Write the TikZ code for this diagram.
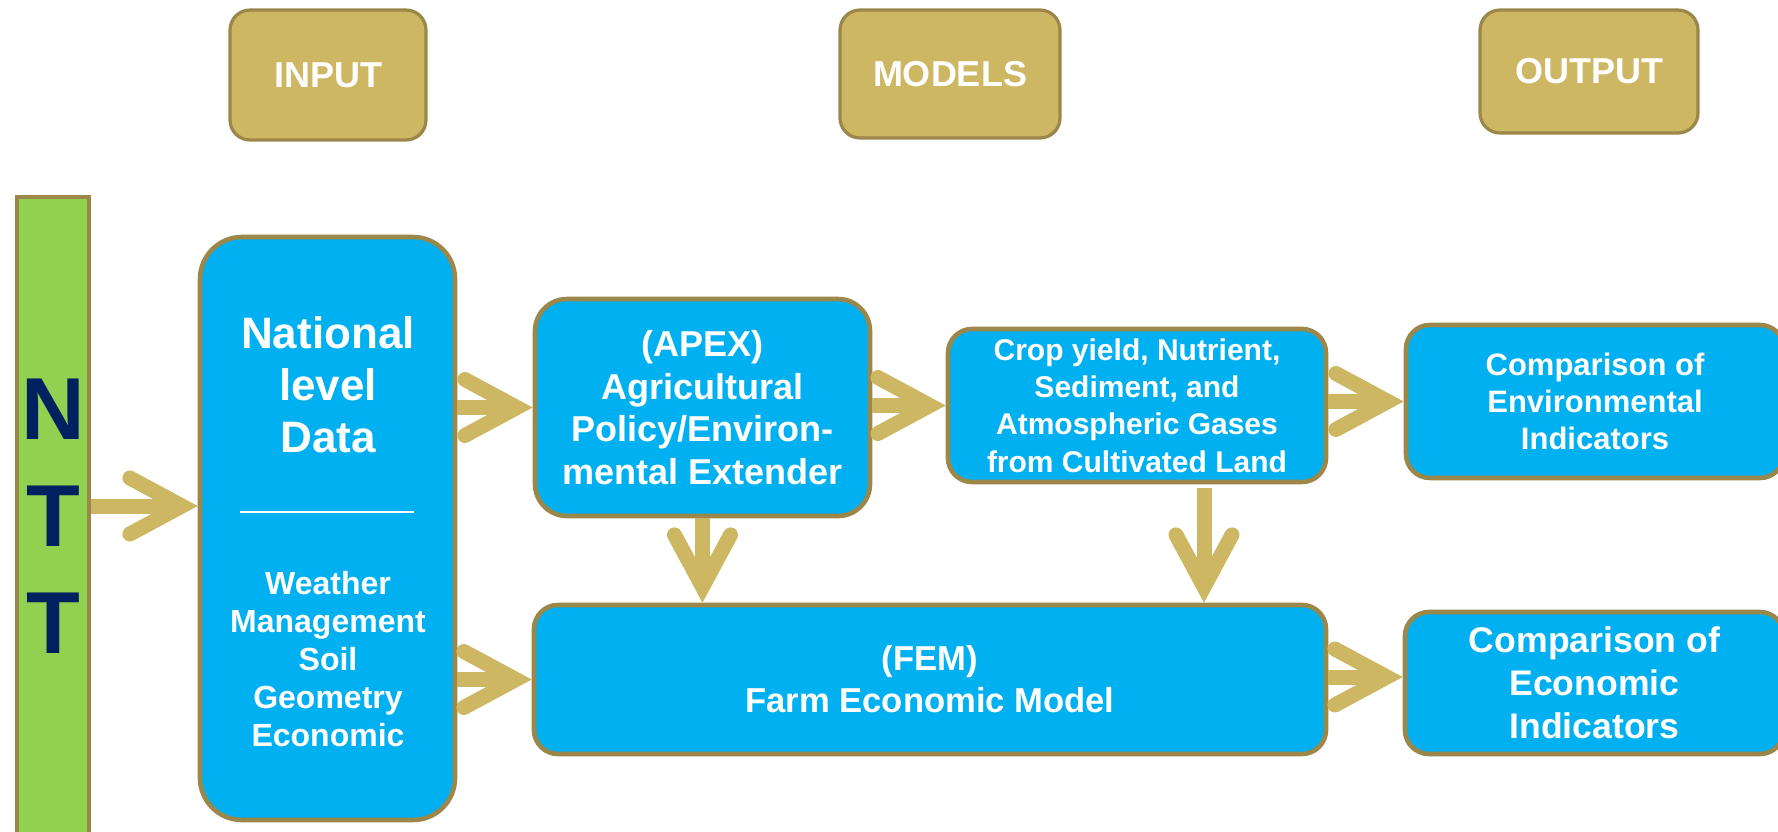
\documentclass[tikz,border=0pt]{standalone}
\usepackage{fontspec}
\setmainfont{Liberation Sans}
\usetikzlibrary{calc}
\usetikzlibrary{positioning}
\usetikzlibrary{arrows.meta}
\definecolor{skyblue}{HTML}{00B0F0}
\definecolor{rim}{HTML}{9A8749}
\definecolor{gold}{HTML}{CDB762}
\definecolor{leaf}{HTML}{92D050}
\definecolor{navy}{HTML}{002060}
\tikzset{
	stage/.style={
		rectangle,
		rounded corners=12pt,
		fill=skyblue,
		draw=rim, line width=2.3pt,
		text=white,
		inner sep=0pt,
		align=center},
	header/.style={
		rectangle,
		rounded corners=10pt,
		fill=gold,
		draw=rim, line width=1.6pt,
		text=white,
		inner sep=0pt,
		font=\fontsize{18}{21}\selectfont\bfseries},
	sidebar/.style={
		rectangle,
		fill=leaf,
		draw=rim, line width=2pt,
		text=navy,
		inner sep=0pt,
		align=center,
		font=\fontsize{44}{53.5}\selectfont\bfseries},
	flow/.style={draw=gold, line width=7.5pt,
		-{Straight Barb[length=26pt, width=28pt, line cap=round, line join=miter]}},
	boxtext/.style={text=white, align=center, inner sep=0pt},
}

\begin{document}
\begin{tikzpicture}[x=0.5pt, y=-0.5pt]
	\useasboundingbox (0,0) rectangle (1778,831);
	\clip (0,0) rectangle (1778,831);

	% column heads
	\node[header, minimum width=98pt, minimum height=65pt] (input) at (328,75) {INPUT};
	\node[header, minimum width=110pt, minimum height=64pt] (models) at (950,74) {MODELS};
	\node[header, minimum width=109pt, minimum height=61.5pt] (output) at (1589,71.5) {OUTPUT};

	\node[sidebar, minimum width=36pt, minimum height=319pt] (ntt) at (53,516) {N\\T\\T};

	\node[stage, rounded corners=21pt, minimum width=127.5pt, minimum height=291.5pt] (national) at (327.5,528.5) {};
	\node[boxtext, font=\fontsize{22}{26}\selectfont\bfseries] (natdata) at (328,385) {National\\level\\Data};
	\draw[white, line width=1pt] (240,512) -- (414,512);
	\node[boxtext, font=\fontsize{16}{19.1}\selectfont\bfseries] (natlist) at (328,659)
		{Weather\\Management\\Soil\\Geometry\\Economic};

	\node[stage, rounded corners=16pt, minimum width=167.5pt, minimum height=108.5pt,
		font=\fontsize{18}{21.3}\selectfont\bfseries] (apex) at (702.5,407.5)
		{(APEX)\\Agricultural\\Policy/Environ-\\mental Extender};
	\node[stage, minimum width=189pt, minimum height=76.5pt,
		font=\fontsize{15}{18.7}\selectfont\bfseries] (crop) at (1137,405.5)
		{Crop yield, Nutrient,\\Sediment, and\\Atmospheric Gases\\from Cultivated Land};
	\node[stage, minimum width=396pt, minimum height=74.5pt,
		font=\fontsize{17.3}{21}\selectfont\bfseries] (fem) at (930,679.5)
		{(FEM)\\Farm Economic Model};
	\node[stage, minimum width=189pt, minimum height=76.5pt,
		font=\fontsize{15.5}{18.7}\selectfont\bfseries] (envind) at (1595,401.5)
		{Comparison of\\Environmental\\Indicators};
	\node[stage, minimum width=189.5pt, minimum height=71pt,
		font=\fontsize{17.8}{21.5}\selectfont\bfseries] (econind) at (1594.5,683)
		{Comparison of\\Economic\\Indicators};

	% connectors
	\coordinate (nttout) at ([yshift=5pt]ntt.east);
	\coordinate (cropout) at ([xshift=33.5pt]crop.south);
	\draw[flow] (nttout) -- (nttout -| national.west);
	\draw[flow] (national.east |- apex.west) -- (apex.west);
	\draw[flow] (national.east |- fem.west) -- (fem.west);
	\draw[flow] (apex.east |- crop.west) -- (crop.west);
	\draw[flow] (crop.east |- envind.west) -- (envind.west);
	\draw[flow] ([yshift=3pt]fem.east |- econind.west) -- ([yshift=3pt]econind.west);
	\draw[flow] (apex.south) -- (apex.south |- fem.north);
	\draw[flow, shorten <=2pt] (cropout) -- (cropout |- fem.north);
\end{tikzpicture}
\end{document}
